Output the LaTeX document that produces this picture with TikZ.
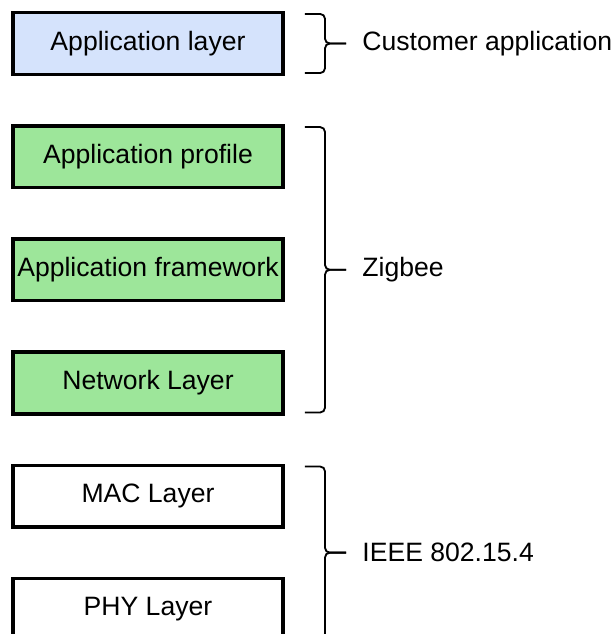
\documentclass[tikz,border=0pt]{standalone}
\usepackage{fontspec}
\setmainfont{Liberation Sans}
\usetikzlibrary{positioning,calc}

\definecolor{appblue}{HTML}{D5E3FC}
\definecolor{zbgreen}{HTML}{9DE69A}

\tikzset{
  layer/.style={draw=black,line width=2.5pt,minimum width=6.76cm,minimum height=1.54cm,inner sep=0pt},
  brace/.style={line width=1.3pt,rounded corners=0.12cm},
  bracetext/.style={anchor=west,inner sep=0pt}
}

\begin{document}
\begin{tikzpicture}[x=0.025cm,y=-0.025cm,node distance=1.2cm,font=\fontsize{18.9}{22}\selectfont]
\useasboundingbox (0,0) rectangle (616,634);
\clip (0,0) rectangle (616,634);
% layer stack
\node[layer,fill=appblue] (app) at (148,43.5) {Application layer};
\node[layer,fill=zbgreen,below=of app] (apf) {Application profile};
\node[layer,fill=zbgreen,below=of apf] (afw) {Application framework};
\node[layer,fill=zbgreen,below=of afw] (nwk) {Network Layer};
\node[layer,fill=white,below=of nwk] (mac) {MAC Layer};
\node[layer,fill=white,below=of mac] (phy) {PHY Layer};
% braces
\coordinate (cutop) at ([shift={(20,3)}]app.north east);
\coordinate (cubot) at ([shift={(20,-3)}]app.south east);
\coordinate (cumid) at ($(cutop)!0.5!(cubot)+(20,0)$);
\coordinate (zbtop) at ([shift={(20,3)}]apf.north east);
\coordinate (zbbot) at ([shift={(20,-3)}]nwk.south east);
\coordinate (zbmid) at ($(zbtop)!0.5!(zbbot)+(20,0)$);
\coordinate (iptop) at ([shift={(20,3)}]mac.north east);
\coordinate (ipbot) at ([shift={(20,-3)}]phy.south east);
\coordinate (ipmid) at ($(iptop)!0.5!(ipbot)+(20,0)$);
\coordinate (cutip) at ([xshift=0.53cm]cumid);
\coordinate (zbtip) at ([xshift=0.53cm]zbmid);
\coordinate (iptip) at ([xshift=0.53cm]ipmid);
\draw[brace] (cutop) -| (cumid) -- (cutip);
\draw[brace] (cubot) -| (cumid) -- (cutip);
\draw[brace] (zbtop) -| (zbmid) -- (zbtip);
\draw[brace] (zbbot) -| (zbmid) -- (zbtip);
\draw[brace] (iptop) -| (ipmid) -- (iptip);
\draw[brace] (ipbot) -| (ipmid) -- (iptip);
\node[bracetext] (cust) at ([xshift=0.4cm]cutip) {Customer application};
\node[bracetext] (zigbee) at ([xshift=0.4cm]zbtip) {Zigbee};
\node[bracetext] (ieee) at ([xshift=0.4cm]iptip) {IEEE 802.15.4};
\end{tikzpicture}
\end{document}
